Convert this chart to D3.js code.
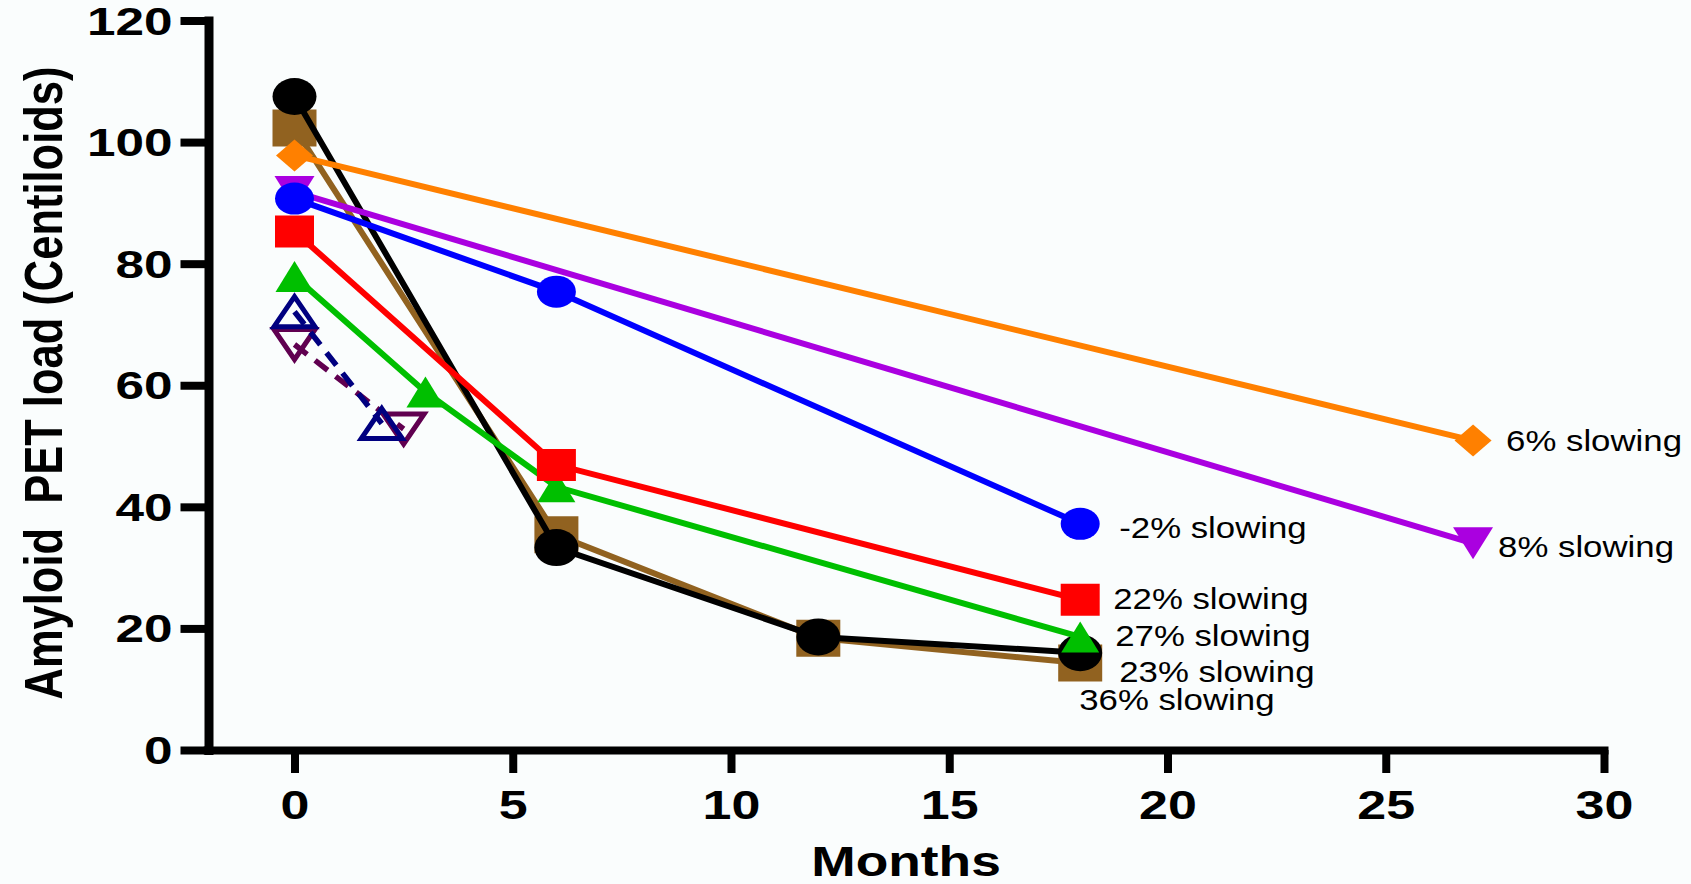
<!DOCTYPE html>
<html>
<head>
<meta charset="utf-8">
<script src="https://cdn.jsdelivr.net/npm/d3@7"></script>
<style>
body{margin:0;background:#fafdfd}
svg{display:block}
</style>
</head>
<body>
<div id="chart"></div>
<script>
// values: months on x, amyloid PET load (Centiloids) on y
const monthsA=[0,6,12,18]
const blackValues=[107.5,33.3,18.6,16.0]
const brownValues=[102.3,35.4,18.4,14.3]
const monthsB=[0,27]
const orangeValues=[97.8,50.9]
const purpleValues=[91.8,34.0]
const monthsC=[0,6,18]
const blueValues=[90.7,75.4,37.2]
const redValues=[85.3,46.9,24.7]
const monthsD=[0,3,6,18]
const greenValues=[77.9,58.9,43.3,18.6]
const navyMonths=[0,2]
const navyValues=[72.1,53.7]
const plumMonths=[0,2.5]
const plumValues=[66.7,52.8]
const slowingLabels=["23% slowing","36% slowing","6% slowing","8% slowing","-2% slowing","22% slowing","27% slowing"]
const xTicks=[0,5,10,15,20,25,30]
const yTicks=[0,20,40,60,80,100,120]

const zip=(xs,ys)=>xs.map((x,i)=>[x,ys[i]])

// drawing order = bottom to top
const series=[
  {pts:zip(plumMonths,plumValues),color:"#600050",shape:"tdown",hollow:true,dash:true,w:41,h:30},
  {pts:zip(navyMonths,navyValues),color:"#000080",shape:"tup",hollow:true,dash:true,w:41,h:30},
  {pts:zip(monthsA,brownValues),color:"#916220",shape:"square",w:44,h:37,label:slowingLabels[1],dx:-1,dy:47},
  {pts:zip(monthsA,blackValues),color:"#000000",shape:"circle",w:44,h:37,label:slowingLabels[0],dx:39,dy:29},
  {pts:zip(monthsB,purpleValues),color:"#aa00e0",shape:"tdown",w:40,h:32,label:slowingLabels[3],dx:25,dy:14},
  {pts:zip(monthsC,blueValues),color:"#0000ff",shape:"circle",w:39,h:32,label:slowingLabels[4],dx:39,dy:14},
  {pts:zip(monthsB,orangeValues),color:"#ff8000",shape:"diamond",w:37,h:32,label:slowingLabels[2],dx:33,dy:10},
  {pts:zip(monthsD,greenValues),color:"#00bf00",shape:"tup",w:38,h:31,label:slowingLabels[6],dx:35,dy:9},
  {pts:zip(monthsC,redValues),color:"#ff0000",shape:"square",w:39,h:32,label:slowingLabels[5],dx:33,dy:9}
]

let width=1691, height=884
let font="'Liberation Sans',Arial,Helvetica,sans-serif"
let svg=d3.select("#chart").append("svg").attr("width",width).attr("height",height)

let xScale=d3.scaleLinear().domain([-2,30]).range([207.2,1604])
let yScale=d3.scaleLinear().domain([0,120]).range([750,20.5])

//axes
let axisY=d3.axisLeft(yScale).tickValues(yTicks).tickSize(28).tickSizeOuter(0)
let gy=svg.append("g").attr("transform","translate(208.5,0)").call(axisY)
gy.select(".domain").attr("stroke","#000").attr("stroke-width",9).attr("stroke-linecap","square")
gy.selectAll(".tick line").attr("stroke","#000").attr("stroke-width",8)
gy.selectAll(".tick text").attr("x",null).attr("dy",null)
  .attr("transform","translate(-36,13.5) scale(1.35,1)")
  .attr("font-size",38).attr("font-weight","bold").attr("font-family",font).attr("fill","#000")

let axisX=d3.axisBottom(xScale).tickValues(xTicks).tickSize(23).tickSizeOuter(0)
let gx=svg.append("g").attr("transform","translate(0,750)").call(axisX)
gx.select(".domain").attr("stroke","#000").attr("stroke-width",8).attr("stroke-linecap","square")
gx.selectAll(".tick line").attr("stroke","#000").attr("stroke-width",8)
gx.selectAll(".tick text").attr("y",null).attr("dy",null)
  .attr("transform","translate(0,69) scale(1.3,1)")
  .attr("font-size",40).attr("font-weight","bold").attr("font-family",font).attr("fill","#000")

//axis titles
svg.append("text").attr("transform","translate(906,876) scale(1.27,1)").attr("text-anchor","middle")
  .attr("font-size",42).attr("font-weight","bold").attr("font-family",font).text("Months")
svg.append("text").attr("transform","translate(62,383) scale(1.25,1) rotate(-90)").attr("text-anchor","middle")
  .attr("font-size",43.5).attr("font-weight","bold").attr("font-family",font).style("white-space","pre")
  .text("Amyloid  PET load (Centiloids)")

function shapePath(shape,w,h){
  let a=w/2,b=h/2
  if(shape=="diamond") return `M0,${-b}L${a},0L0,${b}L${-a},0Z`
  if(shape=="tup") return `M0,${-b}L${a},${b}L${-a},${b}Z`
  if(shape=="tdown") return `M0,${b}L${a},${-b}L${-a},${-b}Z`
  return `M${-a},${-b}H${a}V${b}H${-a}Z`
}

let line=d3.line().x(d=>xScale(d[0])).y(d=>yScale(d[1]))

series.forEach(s=>{
  let g=svg.append("g")
  g.append("path").attr("d",line(s.pts)).attr("fill","none").attr("stroke",s.color)
    .attr("stroke-width",s.dash?5.5:6).attr("stroke-dasharray",s.dash?"16,10":null)
  let m=g.selectAll(".mark").data(s.pts).enter()
  if(s.shape=="circle"){
    m.append("ellipse").attr("cx",d=>xScale(d[0])).attr("cy",d=>yScale(d[1]))
      .attr("rx",s.w/2).attr("ry",s.h/2).attr("fill",s.color)
  }else{
    m.append("path").attr("transform",d=>`translate(${xScale(d[0])},${yScale(d[1])})`)
      .attr("d",shapePath(s.shape,s.w,s.h))
      .attr("fill",s.hollow?"none":s.color)
      .attr("stroke",s.hollow?s.color:"none").attr("stroke-width",5)
  }
})

//end labels
series.filter(s=>s.label).forEach(s=>{
  let last=s.pts[s.pts.length-1]
  svg.append("text")
    .attr("transform",`translate(${xScale(last[0])+s.dx},${yScale(last[1])+s.dy}) scale(1.2,1)`)
    .attr("font-size",29).attr("font-family",font).attr("fill","#000").text(s.label)
})
</script>
</body>
</html>
